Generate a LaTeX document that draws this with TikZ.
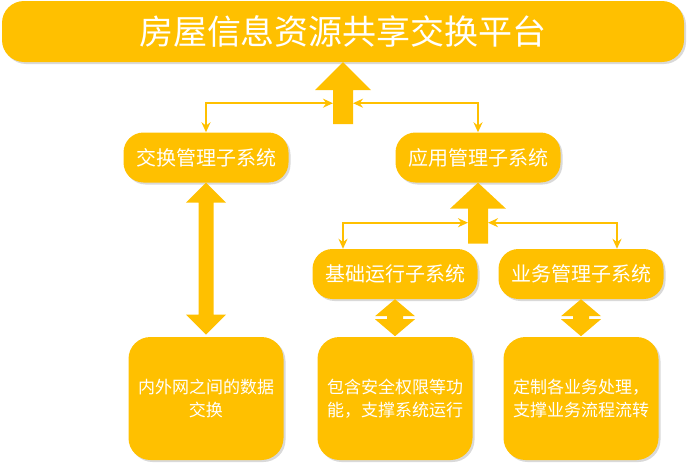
\documentclass[tikz,border=0pt]{standalone}
\usepackage{fontspec}
\setmainfont{Noto Sans CJK SC}
\usetikzlibrary{arrows.meta,shadows,calc}
\definecolor{gold}{HTML}{FFC000}
\begin{document}
\begin{tikzpicture}[x=1pt,y=-1pt,
  shadowed/.style={drop shadow={shadow xshift=2pt,shadow yshift=-2pt,fill=black,opacity=0.15}},
  basebox/.style={fill=gold,text=white,inner sep=0pt,align=center,shadowed},
  topbox/.style={basebox,rounded corners=22pt,minimum width=682pt,minimum height=61pt,font=\fontsize{34}{40}\selectfont},
  subbox/.style={basebox,rounded corners=20pt,minimum width=165pt,minimum height=50pt,font=\fontsize{20}{24}\selectfont},
  descbox/.style={basebox,rounded corners=22pt,minimum width=155pt,minimum height=123pt,font=\fontsize{17}{23}\selectfont},
  bigarrow/.style={fill=gold},
  thinarrow/.style={draw=gold,line width=2pt,{Stealth[length=10pt,width=9pt]}-{Stealth[length=10pt,width=9pt]}}
]
\useasboundingbox (0,0) rectangle (689,463);

\node[topbox] (top) at (343,31.5) {房屋信息资源共享交换平台};
\node[subbox] (jh) at (206,157.5) {交换管理子系统};
\node[subbox] (yy) at (478,157.5) {应用管理子系统};
\node[subbox] (jc) at (395,274) {基础运行子系统};
\node[subbox] (yw) at (581,274) {业务管理子系统};
\node[descbox] (b1) at (206,398.5) {内外网之间的数据\\交换};
\node[descbox] (b2) at (395,398.5) {包含安全权限等功\\能，支撑系统运行};
\node[descbox] (b3) at (581,398.5) {定制各业务处理，\\支撑业务流程流转};

% big arrow to the platform
\fill[bigarrow] (top.south) -- ++(28,28) -- ++(-18,0) -- ++(0,34) -- ++(-20,0) -- ++(0,-34) -- ++(-18,0) -- cycle;
\coordinate (aL) at ($(top.south)+(-10,41)$);
\coordinate (aR) at ($(top.south)+(10,41)$);
\draw[thinarrow] (aL) -| (jh.north);
\draw[thinarrow] (aR) -| (yy.north);

% big arrow to application subsystem
\fill[bigarrow] (yy.south) -- ++(28,26) -- ++(-18,0) -- ++(0,35) -- ++(-20,0) -- ++(0,-35) -- ++(-18,0) -- cycle;
\coordinate (bL) at ($(yy.south)+(-10,40)$);
\coordinate (bR) at ($(yy.south)+(10,40)$);
\coordinate (jcin) at ([xshift=-52pt]jc.north);
\coordinate (ywin) at ([xshift=36pt]yw.north);
\draw[thinarrow] (bL) -| (jcin);
\draw[thinarrow] (bR) -| (ywin);

% long double arrow
\fill[bigarrow] (jh.south) -- ++(20,20) -- ++(-12.5,0) -- ++(0,112) -- ++(12.5,0) -- ++(-20,20) -- ++(-20,-20) -- ++(12.5,0) -- ++(0,-112) -- ++(-12.5,0) -- cycle;

% short double arrows
\fill[bigarrow] (jc.south) -- ++(20,17) -- ++(-12,0) -- ++(0,3) -- ++(12,0) -- ++(-20,17) -- ++(-20,-17) -- ++(12,0) -- ++(0,-3) -- ++(-12,0) -- cycle;
\fill[bigarrow] (yw.south) -- ++(20,17) -- ++(-12,0) -- ++(0,3) -- ++(12,0) -- ++(-20,17) -- ++(-20,-17) -- ++(12,0) -- ++(0,-3) -- ++(-12,0) -- cycle;
\end{tikzpicture}
\end{document}
